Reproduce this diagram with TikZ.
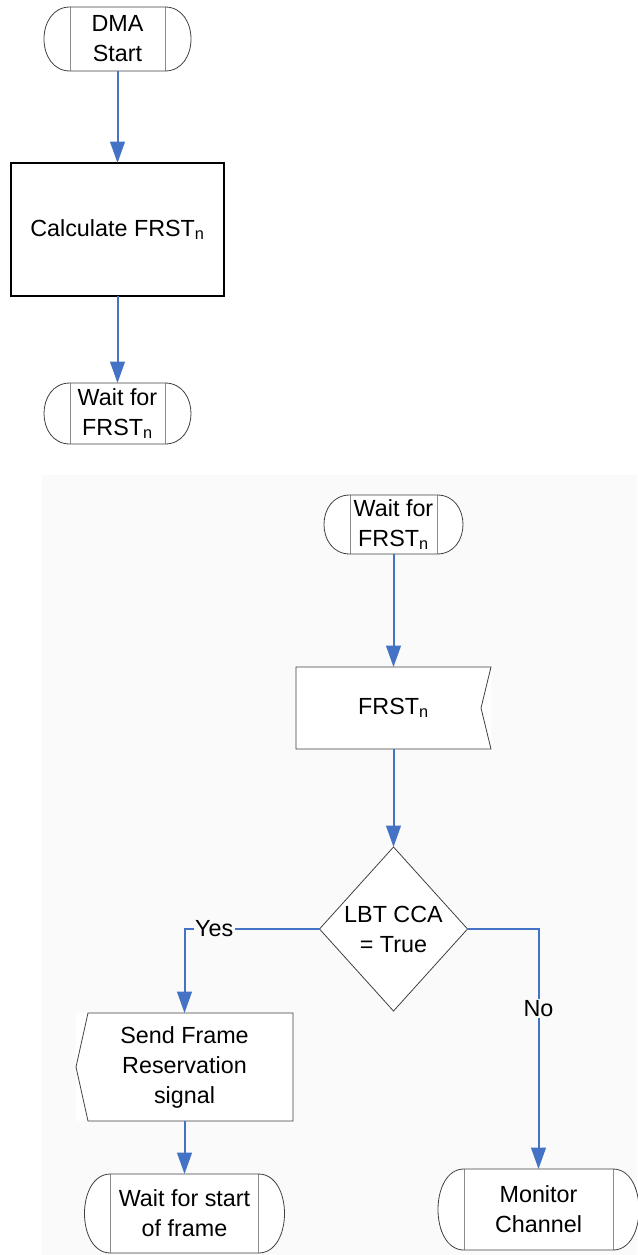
\documentclass[tikz,border=0pt]{standalone}
\usepackage{fontspec}
\setmainfont{Liberation Sans}
\usetikzlibrary{arrows.meta,positioning,shapes.geometric}

\definecolor{flowblue}{RGB}{68,114,196}
\definecolor{paper}{gray}{0.98}

\tikzset{
  term/.style 2 args={rectangle,fill=white,outer sep=0pt,inner sep=1pt,
    align=center,minimum width=#1,minimum height=#2},
  process/.style={rectangle,draw=black,line width=1.5pt,fill=white,outer sep=0pt,
    align=center,minimum width=159.75pt,minimum height=99.75pt},
  plain/.style 2 args={rectangle,fill=white,outer sep=0pt,align=center,
    minimum width=#1,minimum height=#2},
  decision/.style={diamond,draw=black!75,line width=0.6pt,fill=white,aspect=0.9,
    inner sep=0pt,outer sep=0pt,align=center,minimum width=111pt,minimum height=123pt},
  flow/.style={color=flowblue,line width=1.5pt},
  lbl/.style={fill=paper,text=black,inner sep=1pt}
}

\begin{document}
\begin{tikzpicture}[x=0.75pt,y=-0.75pt,>={Triangle[length=16pt,width=11pt]},
    font=\fontsize{17.5}{22.5}\selectfont]

  \useasboundingbox (0,0) rectangle (637,1255);
  \fill[paper] (42,475) rectangle (637,1255);

  % first chart
  \node[term={71.25pt}{48pt}] (start) at (117.5,39) {DMA\\Start};
  \node[process] (calc) [below=69pt of start] {Calculate FRST\textsubscript{n}};
  \node[term={71.25pt}{45.75pt}] (wait1) [below=65.25pt of calc] {Wait for\\FRST\textsubscript{n}};

  % second chart
  \node[term={65.25pt}{44.25pt}] (wait2) at (393.5,524.5) {Wait for\\FRST\textsubscript{n}};
  \node[plain={146.25pt}{61.5pt}] (frst) [below=84.75pt of wait2] {FRST\textsubscript{n}};
  \node[decision] (lbt) [below=73.5pt of frst] {LBT CCA\\= True};
  \node[plain={162.75pt}{81pt}] (sig) at (184.5,1067) {Send Frame\\Reservation\\signal};
  \node[term={111pt}{59.25pt}] (waitframe) [below=39.75pt of sig] {Wait for start\\of frame};
  \node[term={111.75pt}{60.75pt}] (monitor) at (538.5,1209.5) {Monitor\\Channel};

  % outlines
  \foreach \n in {start,wait1,wait2,waitframe,monitor} {
    \fill[white] (\n.north west) .. controls +(-26pt,0) and +(-26pt,0) .. (\n.south west) -- cycle;
    \fill[white] (\n.north east) .. controls +(26pt,0) and +(26pt,0) .. (\n.south east) -- cycle;
    \draw[black!45,line width=0.6pt] (\n.north west) -- (\n.south west)
      (\n.north east) -- (\n.south east);
    \draw[black!75,line width=0.6pt] (\n.north west) .. controls +(-26pt,0) and +(-26pt,0) .. (\n.south west)
      -- (\n.south east) .. controls +(26pt,0) and +(26pt,0) .. (\n.north east) -- cycle;
  }
  \draw[black!75,line width=0.6pt] (frst.north west) -- (frst.north east) -- ([xshift=-7.5pt]frst.east)
    -- (frst.south east) -- (frst.south west) -- cycle;
  \draw[black!75,line width=0.6pt] ([xshift=9pt]sig.north west) -- (sig.north east) -- (sig.south east)
    -- ([xshift=9pt]sig.south west) -- (sig.west) -- cycle;

  \path[->,flow] (start) edge (calc)
                 (calc) edge (wait1)
                 (wait2) edge (frst)
                 (frst) edge (lbt)
                 (sig) edge (waitframe);
  \draw[->,flow] (lbt.west) -| node[lbl,pos=0.39] {Yes} (sig.north);
  \draw[->,flow] (lbt.east) -| node[lbl,pos=0.665] {No} (monitor.north);

\end{tikzpicture}
\end{document}
